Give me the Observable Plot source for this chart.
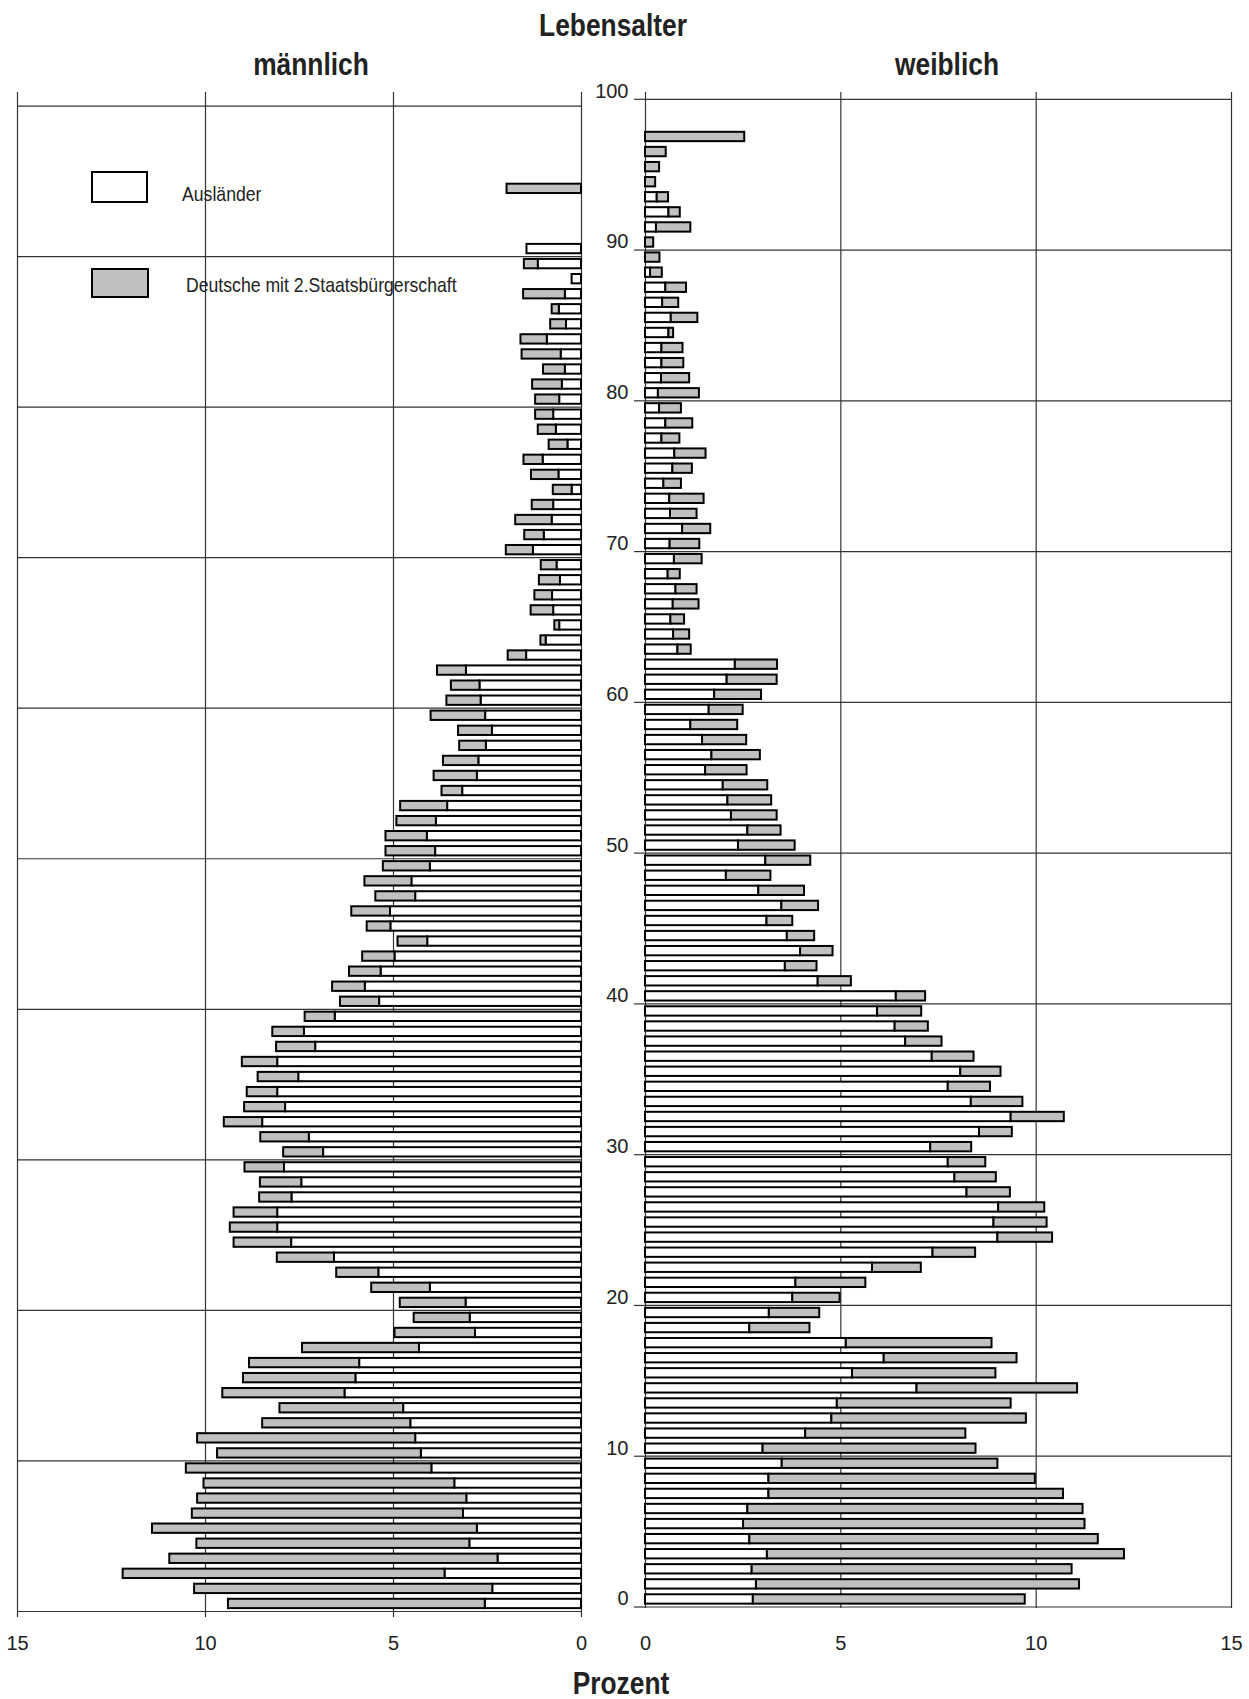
<!DOCTYPE html>
<html>
<head>
<meta charset="utf-8">
<script src="https://cdn.jsdelivr.net/npm/d3@7"></script>
<script src="https://cdn.jsdelivr.net/npm/@observablehq/plot@0.6"></script>
<style>
  html, body { margin: 0; padding: 0; background: #fff; }
  #page { position: relative; width: 1249px; height: 1699px; overflow: hidden;
          font-family: "Liberation Sans Narrow", "Arial Narrow", "Liberation Sans", Arial, sans-serif; color: #222; }
  #page svg { position: absolute; left: 0; top: 78px; }
  .lab { position: absolute; white-space: nowrap; line-height: 1; }
  .title { font-weight: bold; font-size: 31px; line-height: 0.85; transform-origin: 50% 50%; transform: translate(-50%, -50%) scaleX(0.85); }
  .leg { font-size: 21px; transform-origin: 0 50%; transform: translate(0, -50%) scaleX(0.84); }
  .box { position: absolute; box-sizing: border-box; border: 2px solid #000; }
</style>
</head>
<body>
<div id="page"></div>
<script>
// ---------- data (percent per single year of age) ----------
const ages = d3.range(0, 98);
const xTicks = [0, 5, 10, 15];
const yTicks = d3.range(0, 101, 10);
const seriesNames = ["Ausländer", "Deutsche mit 2.Staatsbürgerschaft"];
const sideTitles = ["männlich", "weiblich"];

const maleAuslaender = [
  2.56,2.36,3.63,2.22,2.97,2.77,3.14,3.05,3.37,3.98,
  4.26,4.41,4.54,4.73,6.29,6.00,5.90,4.31,2.82,2.96,
  3.07,4.02,5.39,6.57,7.71,8.08,8.08,7.70,7.44,7.90,
  6.86,7.24,8.48,7.87,8.08,7.52,8.08,7.07,7.37,6.55,
  5.37,5.75,5.33,4.96,4.09,5.07,5.08,4.41,4.51,4.02,
  3.88,4.10,3.86,3.56,3.16,2.77,2.73,2.53,2.37,2.55,
  2.67,2.70,3.06,1.46,0.94,0.58,0.74,0.77,0.56,0.65,
  1.28,0.99,0.78,0.74,0.25,0.60,1.02,0.36,0.67,0.74,
  0.58,0.51,0.43,0.54,0.91,0.40,0.59,0.43,0.25,1.15,
  1.45,0,0,0,0,0,0,0];
const maleDeutsche = [
  6.83,7.93,8.56,8.73,7.26,8.64,7.21,7.16,6.67,6.53,
  5.42,5.80,3.94,3.29,3.25,2.99,2.93,3.11,2.14,1.49,
  1.75,1.56,1.12,1.52,1.53,1.26,1.16,0.86,1.10,1.05,
  1.06,1.29,1.02,1.09,0.81,1.08,0.94,1.04,0.84,0.80,
  1.04,0.87,0.84,0.86,0.79,0.63,1.03,1.06,1.25,1.25,
  1.32,1.10,1.05,1.25,0.55,1.15,0.94,0.71,0.90,1.45,
  0.91,0.76,0.77,0.49,0.14,0.13,0.60,0.47,0.56,0.42,
  0.72,0.52,0.97,0.57,0.50,0.73,0.51,0.50,0.48,0.48,
  0.64,0.79,0.58,1.04,0.70,0.42,0.19,1.11,0,0.37,
  0,0,0,0,1.98,0,0,0];
const femaleAuslaender = [
  2.76,2.84,2.73,3.12,2.67,2.51,2.62,3.16,3.16,3.50,
  3.01,4.10,4.77,4.91,6.95,5.30,6.11,5.14,2.67,3.17,
  3.77,3.85,5.81,7.36,9.02,8.92,9.04,8.23,7.92,7.75,
  7.30,8.55,9.36,8.34,7.75,8.07,7.34,6.66,6.39,5.94,
  6.42,4.42,3.58,3.97,3.63,3.11,3.49,2.90,2.07,3.08,
  2.38,2.62,2.20,2.11,1.99,1.54,1.70,1.46,1.16,1.63,
  1.77,2.09,2.30,0.83,0.72,0.65,0.71,0.78,0.58,0.74,
  0.63,0.95,0.64,0.62,0.47,0.70,0.75,0.42,0.52,0.36,
  0.33,0.41,0.42,0.42,0.60,0.66,0.44,0.52,0.13,0,
  0,0.28,0.60,0.30,0,0,0,0];
const femaleDeutsche = [
  6.96,8.27,8.19,9.14,8.92,8.74,8.58,7.54,6.82,5.52,
  5.45,4.10,4.98,4.45,4.11,3.67,3.40,3.73,1.54,1.29,
  1.21,1.79,1.25,1.09,1.40,1.36,1.18,1.11,1.06,0.96,
  1.05,0.84,1.36,1.32,1.08,1.03,1.07,0.93,0.85,1.13,
  0.75,0.85,0.81,0.83,0.70,0.66,0.94,1.17,1.14,1.15,
  1.45,0.85,1.17,1.12,1.14,1.06,1.24,1.13,1.20,0.87,
  1.20,1.28,1.08,0.34,0.41,0.35,0.66,0.54,0.31,0.71,
  0.76,0.72,0.68,0.88,0.45,0.50,0.80,0.46,0.69,0.56,
  1.05,0.72,0.56,0.54,0.12,0.68,0.41,0.53,0.30,0.37,
  0.21,0.88,0.29,0.29,0.26,0.36,0.53,2.54];

// ---------- build ----------
const FONT = '"Liberation Sans Narrow", "Arial Narrow", "Liberation Sans", Arial, sans-serif';
const GRAY = "#c0c0c0";
const table = (a, d) => ages.map((age, i) => ({age, a: a[i], d: d[i]}));
const male = table(maleAuslaender, maleDeutsche);
const female = table(femaleAuslaender, femaleDeutsche);

function barMarks(rows) {
  const common = {y1: r => r.age + 0.19, y2: r => r.age + 0.81, stroke: "#000", strokeWidth: 2};
  return [
    Plot.rectX(rows.filter(r => r.a > 0), {...common, x1: 0, x2: "a", fill: "#fff"}),
    Plot.rectX(rows.filter(r => r.d > 0), {...common, x1: "a", x2: r => r.a + r.d, fill: GRAY})
  ];
}
const baseStyle = {fontFamily: FONT, fontSize: "20px", color: "#222", background: "transparent", overflow: "visible"};

// male panel (left half of the page, x reversed)
const left = Plot.plot({
  width: 1249, height: 1587,
  marginLeft: 17, marginRight: 668, marginTop: 14, marginBottom: 48,
  x: {domain: [15, 0], axis: null, label: null},
  y: {domain: [-0.4, 100.9], axis: null, label: null},
  style: baseStyle,
  marks: [
    Plot.ruleX(xTicks, {stroke: "#333", strokeWidth: 1.2}),
    Plot.ruleY(yTicks, {x1: 15, x2: 0, stroke: "#333", strokeWidth: 1.2}),
    ...barMarks(male),
    Plot.axisX(xTicks, {anchor: "bottom", tickSize: 0, tickPadding: 18, label: null, tickFormat: d => String(d)})
  ]
});

// female panel (right half of the page) with the age axis
const right = Plot.plot({
  width: 1249, height: 1587,
  marginLeft: 645, marginRight: 18, marginTop: 14, marginBottom: 57,
  x: {domain: [0, 15], axis: null, label: null},
  y: {domain: [-0.1, 100.45], axis: null, label: null},
  style: baseStyle,
  marks: [
    Plot.ruleX(xTicks, {stroke: "#333", strokeWidth: 1.2}),
    Plot.ruleY(yTicks, {x1: 0, x2: 15, stroke: "#333", strokeWidth: 1.2}),
    Plot.ruleY(yTicks, {x1: 0, x2: 0, insetLeft: -11, stroke: "#333", strokeWidth: 1.2}),
    Plot.text(yTicks, {x: 0, y: d => d, text: d => String(d), textAnchor: "end", dx: -17, dy: -8, fill: "#222"}),
    ...barMarks(female),
    Plot.axisX(xTicks, {anchor: "bottom", tickSize: 0, tickPadding: 27, label: null, tickFormat: d => String(d)})
  ]
});

const page = document.getElementById("page");
page.appendChild(left);
page.appendChild(right);

function label(text, cls, x, y) {
  const el = document.createElement("div");
  el.className = "lab " + cls;
  el.textContent = text;
  el.style.left = x + "px";
  el.style.top = y + "px";
  page.appendChild(el);
}
label("Lebensalter", "title", 613, 26);
label(sideTitles[0], "title", 311, 65);
label(sideTitles[1], "title", 947, 65);
label("Prozent", "title", 621, 1684);

// legend
function box(x, y, w, h, fill) {
  const el = document.createElement("div");
  el.className = "box";
  Object.assign(el.style, {left: x + "px", top: y + "px", width: w + "px", height: h + "px", background: fill});
  page.appendChild(el);
}
box(91, 171, 57, 32, "#fff");
box(91, 268, 58, 30, GRAY);
label(seriesNames[0], "leg", 182, 193);
label(seriesNames[1], "leg", 186, 284);
</script>
</body>
</html>
